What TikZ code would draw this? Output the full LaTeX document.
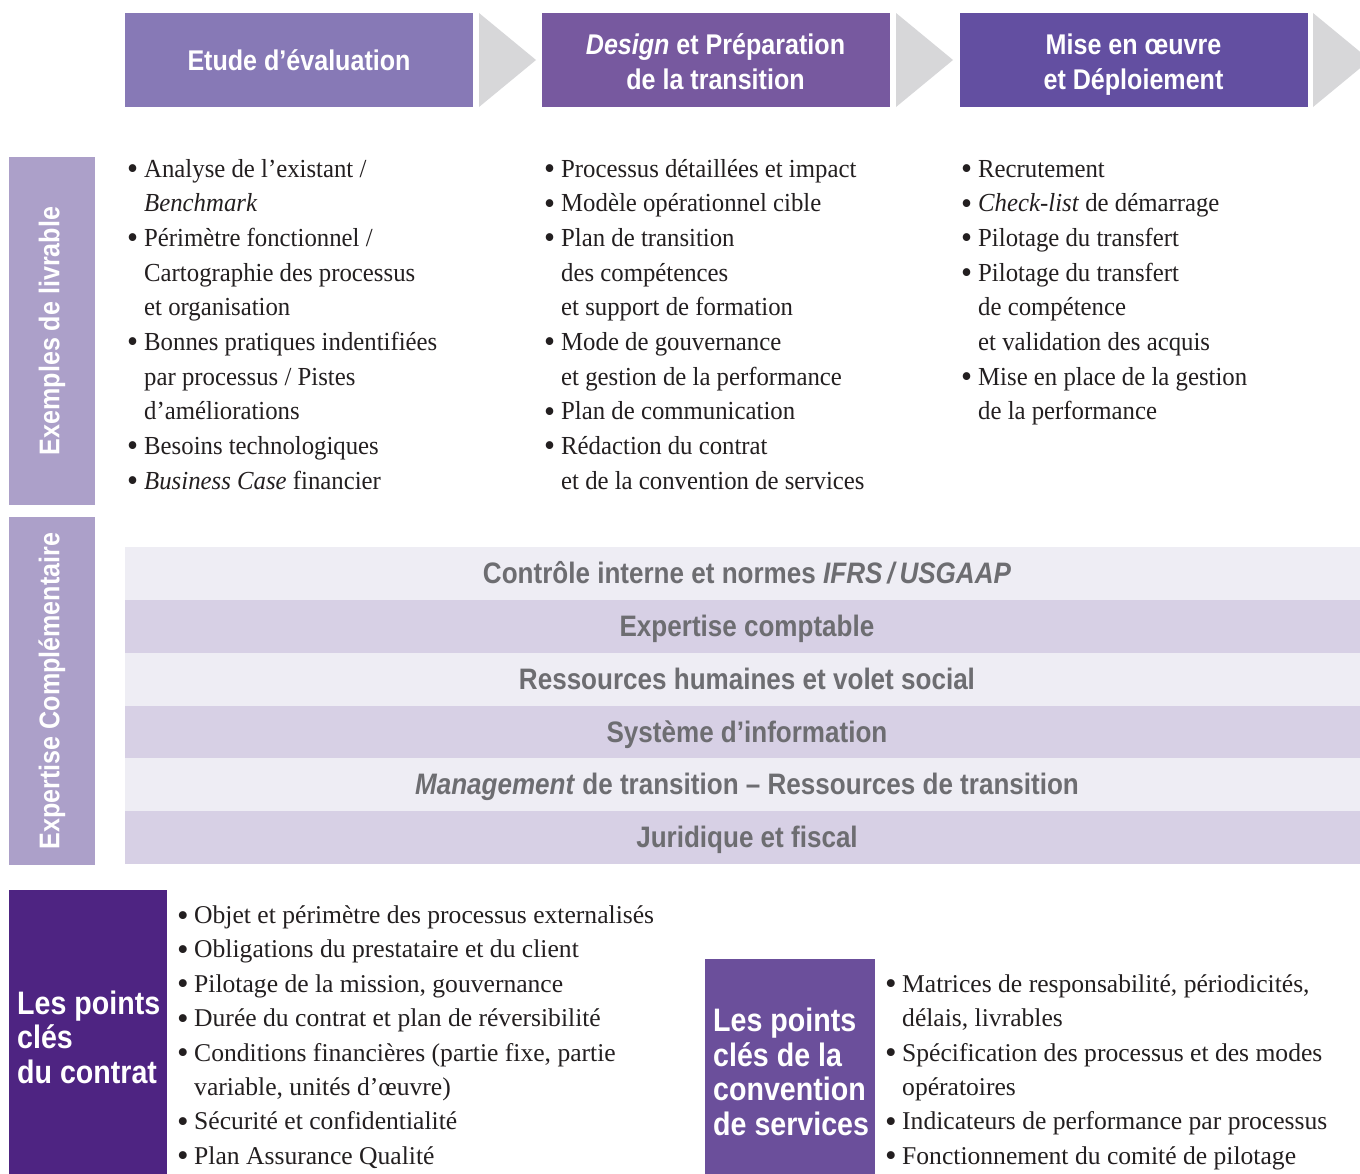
\documentclass[tikz,border=0pt]{standalone}
\usepackage{fontspec}
\setmainfont{Liberation Serif}[FakeStretch=0.953]
\newfontfamily\serB{Liberation Serif}[FakeStretch=1.0]
\newfontfamily\hd{Liberation Sans}[FakeStretch=0.88]
\definecolor{hdA}{HTML}{8779B6}
\definecolor{hdB}{HTML}{77599F}
\definecolor{hdC}{HTML}{634FA1}
\definecolor{arrowgray}{HTML}{D7D7D9}
\definecolor{sidebar}{HTML}{ACA0C9}
\definecolor{bandlight}{HTML}{EEEDF4}
\definecolor{banddark}{HTML}{D7D0E5}
\definecolor{bandtext}{HTML}{6D6D71}
\definecolor{boxA}{HTML}{4E2482}
\definecolor{boxB}{HTML}{6B4F9B}
\definecolor{ink}{HTML}{231F20}
\newcommand\hdfont{\hd\bfseries\fontsize{28.5}{35}\selectfont}
\newcommand\bandfont{\hd\bfseries\fontsize{29.6}{35}\selectfont}
\newcommand\bigfont{\hd\bfseries\fontsize{32.5}{34.5}\selectfont}
\newcommand\serf{\fontsize{26}{34.7}\selectfont}
\newcommand\serfB{\serB\fontsize{25.6}{34.4}\selectfont}
\newcommand\bul{\makebox[17pt][l]{\raisebox{-2.5pt}{\fontsize{33}{0}\selectfont\textbullet}}}
\newcommand\ind{\hspace*{17pt}}
\begin{document}
\begin{tikzpicture}[x=1pt,y=-1pt,
  hdbox/.style={inner sep=0, minimum width=348pt, minimum height=94pt},
  hdtext/.style={anchor=base, text=white, font=\hdfont, inner sep=0},
  tri/.style={fill=arrowgray},
  sidebox/.style={fill=sidebar, inner sep=0},
  sidelabel/.style={rotate=90, text=white, font=\hdfont, inner sep=0},
  bandlabel/.style={anchor=base, text=bandtext, font=\bandfont, inner sep=0},
  txt/.style={anchor=base west, inner sep=0, font=\serf, text=ink},
  txtB/.style={anchor=base west, inner sep=0, font=\serfB, text=ink},
  keylabel/.style={anchor=west, text=white, font=\bigfont, align=left, inner sep=0}
]
\clip (0,0) rectangle (1360,1173);
\fill[white] (0,0) rectangle (1360,1173);

% header boxes
\node[hdbox, fill=hdA] (h1) at (299,60) {};
\node[hdbox, fill=hdB] (h2) at (715.5,60) {};
\node[hdbox, fill=hdC] (h3) at (1133.5,60) {};
\node[hdtext] (h1a) at (299,70) {Etude d’évaluation};
\node[hdtext] (h2a) at (715.5,54) {\textit{Design} et Préparation};
\node[hdtext] (h2b) at (715.5,89) {de la transition};
\node[hdtext] (h3a) at (1133.5,54) {Mise en œuvre};
\node[hdtext] (h3b) at (1133.5,89) {et Déploiement};
\fill[tri] (479,13) -- (536,60) -- (479,107) -- cycle;
\fill[tri] (896,13) -- (953,60) -- (896,107) -- cycle;
\fill[tri] (1313,13) -- (1370,60) -- (1313,107) -- cycle;

% side bars
\fill[sidebox] (9,157) rectangle (95,505);
\node[sidelabel] (s1) at (52,331) {Exemples de livrable};
\fill[sidebox] (9,517) rectangle (95,865);
\node[sidelabel] (s2) at (52,691) {Expertise Complémentaire};

% columns of deliverables
\foreach \t [count=\i from 0] in {
  {\bul Analyse de l’existant /},
  {\ind\textit{Benchmark}},
  {\bul Périmètre fonctionnel /},
  {\ind Cartographie des processus},
  {\ind et organisation},
  {\bul Bonnes pratiques indentifiées},
  {\ind par processus / Pistes},
  {\ind d’améliorations},
  {\bul Besoins technologiques},
  {\bul \textit{Business Case} financier}}
  \node[txt] (ca\i) at (127,{177+34.67*\i}) {\t};

\foreach \t [count=\i from 0] in {
  {\bul Processus détaillées et impact},
  {\bul Modèle opérationnel cible},
  {\bul Plan de transition},
  {\ind des compétences},
  {\ind et support de formation},
  {\bul Mode de gouvernance},
  {\ind et gestion de la performance},
  {\bul Plan de communication},
  {\bul Rédaction du contrat},
  {\ind et de la convention de services}}
  \node[txt] (cb\i) at (544,{177+34.67*\i}) {\t};

\foreach \t [count=\i from 0] in {
  {\bul Recrutement},
  {\bul \textit{Check-list} de démarrage},
  {\bul Pilotage du transfert},
  {\bul Pilotage du transfert},
  {\ind de compétence},
  {\ind et validation des acquis},
  {\bul Mise en place de la gestion},
  {\ind de la performance}}
  \node[txt] (cc\i) at (961,{177+34.67*\i}) {\t};

% expertise bands
\foreach \lab [count=\i from 0] in {
  {Contrôle interne et normes \textit{IFRS\,/\,USGAAP}},
  {Expertise comptable},
  {Ressources humaines et volet social},
  {Système d’information},
  {\textit{Management} de transition – Ressources de transition},
  {Juridique et fiscal}}
{
  \pgfmathsetmacro\yt{547+52.83*\i}
  \pgfmathparse{mod(\i,2)==0 ? "bandlight" : "banddark"}
  \edef\bc{\pgfmathresult}
  \fill[fill=\bc] (125,\yt) rectangle (1360,\yt+52.83);
  \node[bandlabel] (b\i) at (747,\yt+36.5) {\lab};
}

% key points of the contract
\fill[boxA] (9,890) rectangle (167,1180);
\node[keylabel] (k1) at (17,1037) {Les points\\clés\\du contrat};
\foreach \t [count=\i from 0] in {
  {\bul Objet et périmètre des processus externalisés},
  {\bul Obligations du prestataire et du client},
  {\bul Pilotage de la mission, gouvernance},
  {\bul Durée du contrat et plan de réversibilité},
  {\bul Conditions financières (partie fixe, partie},
  {\ind variable, unités d’œuvre)},
  {\bul Sécurité et confidentialité},
  {\bul Plan Assurance Qualité}}
  \node[txtB] (ka\i) at (177,{923.5+34.4*\i}) {\t};

% key points of the service agreement
\fill[boxB] (705,959) rectangle (875,1180);
\node[keylabel] (k2) at (713,1072) {Les points\\clés de la\\convention\\de services};
\foreach \t [count=\i from 0] in {
  {\bul Matrices de responsabilité, périodicités,},
  {\ind délais, livrables},
  {\bul Spécification des processus et des modes},
  {\ind opératoires},
  {\bul Indicateurs de performance par processus},
  {\bul Fonctionnement du comité de pilotage}}
  \node[txtB] (kb\i) at (885,{992.3+34.4*\i}) {\t};
\end{tikzpicture}
\end{document}
